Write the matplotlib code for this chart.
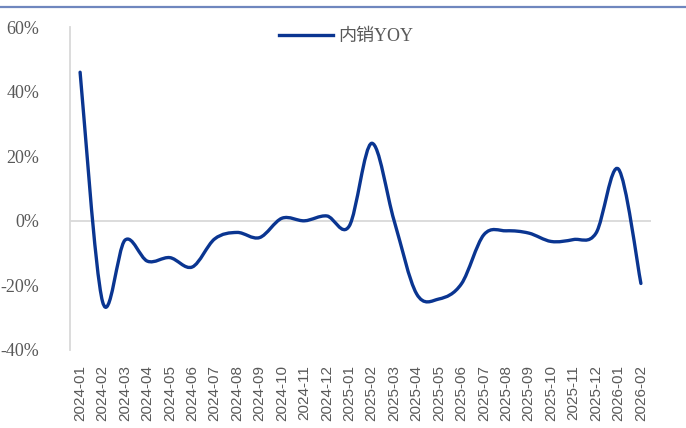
import matplotlib.pyplot as plt
from matplotlib.path import Path
from matplotlib.patches import PathPatch
from matplotlib.lines import Line2D

# monthly domestic sales YoY (%)
months = ['2024-01', '2024-02', '2024-03', '2024-04', '2024-05', '2024-06',
          '2024-07', '2024-08', '2024-09', '2024-10', '2024-11', '2024-12',
          '2025-01', '2025-02', '2025-03', '2025-04', '2025-05', '2025-06',
          '2025-07', '2025-08', '2025-09', '2025-10', '2025-11', '2025-12',
          '2026-01', '2026-02']
yoy = [46, -25, -6, -12.5, -11.4, -14.3,
       -5.6, -3.6, -5.2, 0.8, 0, 1.5,
       -1.6, 24, 0, -22.6, -24.2, -19.5,
       -4.3, -3.1, -3.8, -6.4, -5.8, -3.8,
       16, -19.4]
series_name = '内销YOY'
y_ticks = [-40, -20, 0, 20, 40, 60]

line_color = '#0a3591'
grid_color = '#d9d9d9'
text_color = '#595959'

fig = plt.figure(figsize=(6.86, 4.28), dpi=100)
ax = fig.add_axes([70 / 686, 1 - 350 / 428, 581 / 686, 323 / 428])

# smoothed line like Excel: cubic bezier segments through the points
xs = list(range(len(yoy)))
pts = list(zip(xs, yoy))
verts = [pts[0]]
codes = [Path.MOVETO]
for i in range(len(pts) - 1):
    p0 = pts[i - 1] if i > 0 else pts[i]
    p1 = pts[i]
    p2 = pts[i + 1]
    p3 = pts[i + 2] if i + 2 < len(pts) else pts[i + 1]
    c1 = (p1[0] + (p2[0] - p0[0]) / 6, p1[1] + (p2[1] - p0[1]) / 6)
    c2 = (p2[0] - (p3[0] - p1[0]) / 6, p2[1] - (p3[1] - p1[1]) / 6)
    verts += [c1, c2, p2]
    codes += [Path.CURVE4] * 3
ax.add_patch(PathPatch(Path(verts, codes), facecolor='none',
                       edgecolor=line_color, lw=2.4, capstyle='round',
                       joinstyle='round', zorder=3))

ax.axhline(0, color=grid_color, lw=1.3, zorder=1)

ax.set_xlim(-0.45, len(yoy) - 0.55)
ax.set_ylim(-40, 60)
ax.set_yticks(y_ticks)
ax.set_yticklabels([f'{t}%' for t in y_ticks], family='Liberation Serif',
                   fontsize=13, color=text_color)
ax.set_xticks(xs)
ax.set_xticklabels(months, rotation=90, family='Liberation Sans',
                   fontsize=11, color=text_color, va='top')
ax.tick_params(axis='both', length=0)
ax.tick_params(axis='y', pad=22)
ax.tick_params(axis='x', pad=11)

for s in ['top', 'right', 'bottom']:
    ax.spines[s].set_visible(False)
ax.spines['left'].set_color(grid_color)
ax.spines['left'].set_linewidth(1.3)

handle = Line2D([], [], color=line_color, lw=2.4)
leg = ax.legend([handle], [series_name], loc='center',
                bbox_to_anchor=(346 / 686, 1 - 37 / 428),
                bbox_transform=fig.transFigure, frameon=False,
                handlelength=3.0, handletextpad=0.3,
                prop={'family': ['Liberation Serif', 'Noto Sans CJK SC'],
                      'size': 13})
for t in leg.get_texts():
    t.set_color(text_color)

# thin rule across the top
fig.add_artist(Line2D([0, 1], [1 - 7 / 428] * 2, color='#6f87be', lw=1.6))

fig.savefig('out.png', dpi=100)
